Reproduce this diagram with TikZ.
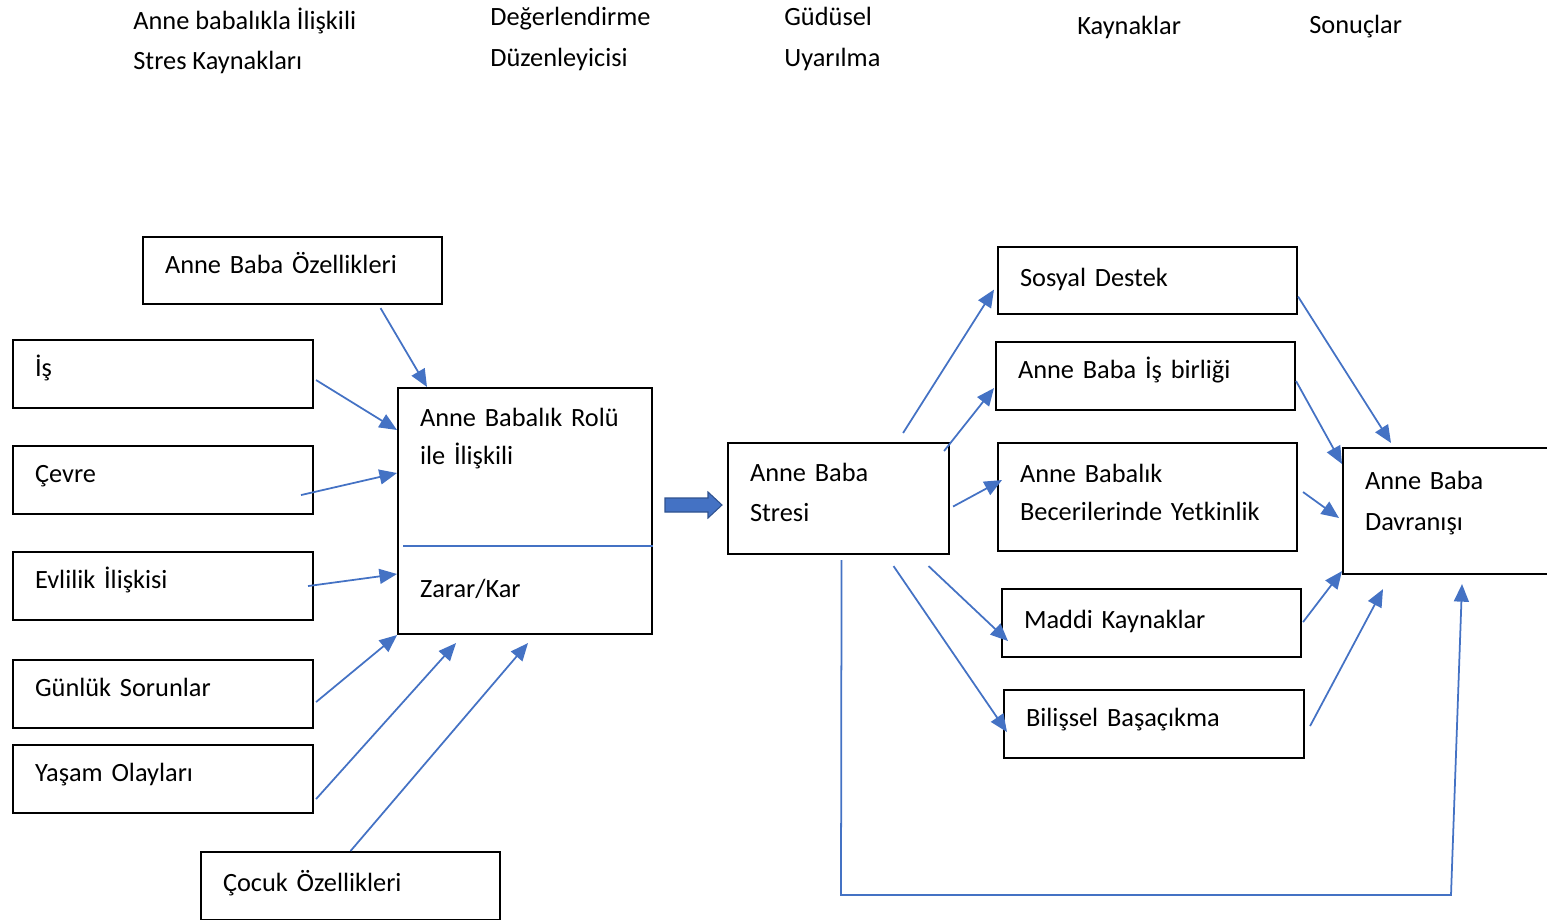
\documentclass[tikz,border=0pt]{standalone}
\usepackage{fontspec}
\setmainfont{Carlito}
\usetikzlibrary{arrows.meta,calc}

\definecolor{okmavi}{HTML}{4472C4}
\definecolor{koyumavi}{HTML}{2F528F}

\tikzset{
  kutu/.style={draw=black, line width=1.2pt, anchor=north west, align=left,
    inner xsep=0.44cm, inner ysep=0pt, text depth=0.32cm, font=\fontsize{15}{23}\selectfont},
  baslik/.style={anchor=west, align=left, inner sep=0pt, font=\fontsize{15}{23}\selectfont},
  ok/.style={okmavi, line width=1pt, -{Triangle[length=10pt,width=8.5pt]}},
}

\begin{document}
\begin{tikzpicture}[x=0.02cm, y=-0.02cm]
    \useasboundingbox (0,0) rectangle (1547,919);

    % basliklar
    \node[baslik] (b1) at (133,41) {Anne babalıkla İlişkili\\Stres Kaynakları};
    \node[baslik] (b2) at (490,39) {Değerlendirme\\Düzenleyicisi};
    \node[baslik] (b3) at (784,39) {Güdüsel\\Uyarılma};
    \node[baslik] (b4) at (1077,27) {Kaynaklar};
    \node[baslik] (b5) at (1309,27) {Sonuçlar};

    % stres kaynaklari
    \node[kutu, text width=5.10cm, minimum height=1.34cm] (ozel) at (142,236) {Anne Baba Özellikleri};
    \node[kutu, text width=5.12cm, minimum height=1.36cm] (is) at (12,339) {İş};
    \node[kutu, text width=5.12cm, minimum height=1.36cm, text depth=0.26cm] (cevre) at (12,445) {Çevre};
    \node[kutu, text width=5.12cm, minimum height=1.36cm] (evlilik) at (12,551) {Evlilik İlişkisi};
    \node[kutu, text width=5.12cm, minimum height=1.36cm, text depth=0.26cm] (gunluk) at (12,659) {Günlük Sorunlar};
    \node[kutu, text width=5.12cm, minimum height=1.36cm, text depth=0.26cm] (yasam) at (12,744) {Yaşam Olayları};
    \node[kutu, text width=5.10cm, minimum height=1.36cm, text depth=0.22cm] (cocuk) at (200,851) {Çocuk Özellikleri};

    \node[kutu, text width=4.20cm, minimum height=4.92cm, text depth=3.76cm] (rol) at (397,387)
        {Anne Babalık Rolü\\[-0.05cm]ile İlişkili\\[1.86cm]Zarar/Kar};
    \draw[okmavi, line width=0.9pt] ($(rol.west)+(6,35)$) -- ($(rol.east)+(0,35)$);

    \draw[ok] ($(ozel.south)+(88,3)$) -- ($(rol.north west)+(30,0)$);
    \draw[ok] ($(is.east)+(2,6)$) -- ($(rol.north west)+(0,43)$);
    \draw[ok] ($(cevre.east)+(-13,15)$) -- ($(rol.north west)+(0,86)$);
    \draw[ok] ($(evlilik.east)+(-6,0)$) -- ($(rol.north west)+(0,187)$);
    \draw[ok] ($(gunluk.east)+(2,8)$) -- (rol.south west);
    \draw[ok] ($(yasam.east)+(2,20)$) -- ($(rol.south west)+(59,8)$);
    \draw[ok] (cocuk.north) -- ($(rol.south west)+(131,8)$);

    % kalin ok
    \filldraw[draw=koyumavi, fill=okmavi, line width=0.6pt] (665,498) -- (708,498) -- (708,492)
        -- (722,505) -- (708,518) -- (708,512) -- (665,512) -- cycle;

    % stres ve kaynaklar
    \node[kutu, text width=3.54cm, minimum height=2.22cm, text depth=1.05cm] (stres) at (727,442) {Anne Baba\\Stresi};
    \node[kutu, text width=5.10cm, minimum height=1.34cm, text depth=0.12cm] (sosyal) at (997,246) {Sosyal Destek};
    \node[kutu, text width=5.10cm, minimum height=1.36cm] (birlik) at (995,341) {Anne Baba İş birliği};
    \node[kutu, text width=5.10cm, minimum height=2.16cm, text depth=0.96cm] (beceri) at (997,442) {Anne Babalık\\[-0.05cm]Becerilerinde Yetkinlik};
    \node[kutu, text width=5.10cm, minimum height=1.36cm, text depth=0.14cm] (maddi) at (1001,588) {Maddi Kaynaklar};
    \node[kutu, text width=5.12cm, minimum height=1.36cm, text depth=0.26cm] (bilis) at (1003,689) {Bilişsel Başaçıkma};
    \node[kutu, text width=3.42cm, minimum height=2.52cm, text depth=1.22cm] (davr) at (1342,447) {Anne Baba\\Davranışı};

    \draw[ok] ($(stres.north east)+(-47,-9)$) -- ($(sosyal.west)+(-3,9)$);
    \draw[ok] ($(stres.north east)+(-6,9)$) -- ($(birlik.west)+(-1,12)$);
    \draw[ok] ($(stres.east)+(3,8)$) -- ($(beceri.west)+(5,-17)$);
    \draw[ok] ($(stres.south)+(90,11)$) -- ($(maddi.west)+(7,18)$);
    \draw[ok] ($(stres.south)+(55,11)$) -- ($(bilis.west)+(4,8)$);

    \draw[ok] ($(sosyal.east)+(0,16)$) -- ($(davr.north west)+(49,-4)$);
    \draw[ok] ($(birlik.east)+(0,5)$) -- ($(davr.north west)+(0,17)$);
    \draw[ok] ($(beceri.east)+(5,-5)$) -- ($(davr.north west)+(-3,71)$);
    \draw[ok] ($(maddi.east)+(1,-1)$) -- ($(davr.south west)+(0,-4)$);
    \draw[ok] ($(bilis.east)+(5,2)$) -- ($(davr.south west)+(41,14)$);

    % geri besleme
    \coordinate (donus1) at (841,895);
    \coordinate (donus2) at (1451,895);
    \draw[ok] ($(stres.south)+(3,5)$) -- (donus1) -- (donus2) -- ($(davr.south west)+(120,9)$);
\end{tikzpicture}
\end{document}
